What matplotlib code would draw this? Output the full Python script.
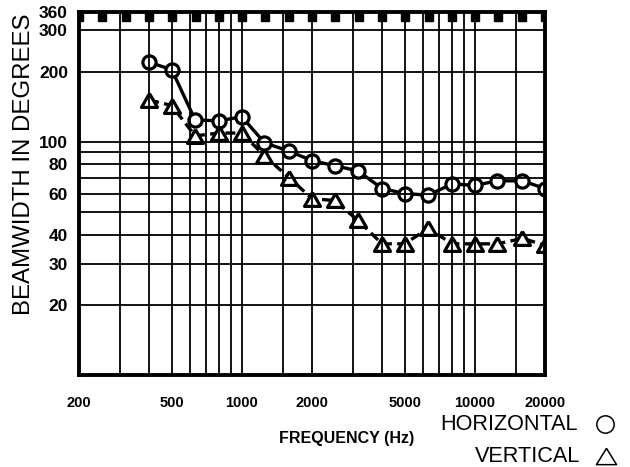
#!/usr/bin/env python3
"""Beamwidth vs frequency, horizontal and vertical."""

import matplotlib
matplotlib.use("Agg")
import matplotlib.pyplot as plt
from matplotlib.lines import Line2D
from matplotlib.ticker import FixedLocator, NullLocator

# 1/3 octave centre frequencies, Hz
freq = [400, 500, 630, 800, 1000, 1250, 1600, 2000, 2500, 3150,
        4000, 5000, 6300, 8000, 10000, 12500, 16000, 20000]
# beamwidth, degrees
horizontal = [219, 204, 124, 123, 128, 99, 91, 83, 79, 75,
              63, 60, 59, 66, 65, 68, 68, 63]
vertical = [151, 143, 106, 109, 109, 87, 70, 57, 56, 46,
            36.5, 36.5, 42.5, 36.5, 36.5, 36.5, 38.5, 36]

x_labels = [200, 500, 1000, 2000, 5000, 10000, 20000]
y_labels = [20, 30, 40, 60, 80, 100, 200, 300, 360]
x_grid = [300, 400, 500, 600, 700, 800, 900, 1000, 1500, 2000,
          3000, 4000, 5000, 6000, 7000, 8000, 9000, 10000, 15000]
y_grid = [20, 30, 40, 50, 60, 70, 80, 90, 100, 200, 300]

plt.rcParams["font.family"] = ["Liberation Sans", "DejaVu Sans"]

W, H = 630, 467
fig = plt.figure(figsize=(W / 100, H / 100), dpi=100)
ax = fig.add_axes([79 / W, 1 - 375 / H, (545 - 79) / W, (375 - 12) / H])
ax.set_xscale("log")
ax.set_yscale("log")
ax.set_xlim(200, 20000)
ax.set_ylim(10, 360)

# grid, drawn by hand so only the wanted lines show
for g in x_grid:
    ax.axvline(g, color="black", lw=1.3, zorder=3)
for g in y_grid:
    ax.axhline(g, color="black", lw=1.3, zorder=3)

# the little square marks hanging from the top edge (every 1/10 decade)
sq = [200 * 10 ** (k / 10) for k in range(21)]
ax.plot(sq, [0.987] * len(sq), "s", color="black", ms=6.3,
        transform=ax.get_xaxis_transform(), clip_on=True, zorder=4)

tri = [(0, 0.866), (-1, -0.866), (1, -0.866), (0, 0.866)]
ax.plot(freq, horizontal, "-o", color="black", lw=2.4, ms=9.5, mew=2.3,
        mfc="white", zorder=2)
ax.plot(freq, vertical, color="black", lw=2.4, ls=(0, (3, 1.6)),
        marker=tri, ms=11.5, mew=2.3, mfc="white", zorder=2)

ax.xaxis.set_major_locator(FixedLocator(x_labels))
ax.xaxis.set_minor_locator(NullLocator())
ax.yaxis.set_major_locator(FixedLocator(y_labels))
ax.yaxis.set_minor_locator(NullLocator())
ax.set_xticklabels([str(v) for v in x_labels], fontsize=10.5, fontweight="bold")
ax.set_yticklabels([str(v) for v in y_labels], fontsize=12.5, fontweight="bold")
ax.tick_params(axis="x", length=0, pad=15)
ax.tick_params(axis="y", length=0, pad=8)

for s in ax.spines.values():
    s.set_linewidth(2.8)
    s.set_zorder(5)

fig.text(24.5 / W, 1 - 164 / H, "BEAMWIDTH IN DEGREES", rotation=90,
         fontsize=17.3, ha="center", va="center")
fig.text(347 / W, 1 - 439 / H, "FREQUENCY (Hz)", fontsize=11.5,
         fontweight="bold", ha="center", va="center")
fig.text(440 / W, 1 - 430.5 / H, "HORIZONTAL", fontsize=15.6,
         ha="left", va="baseline")
fig.text(475 / W, 1 - 462 / H, "VERTICAL", fontsize=15.6,
         ha="left", va="baseline")

# key symbols after the two words
key_tri = [(0, 0.81), (-1, -0.81), (1, -0.81), (0, 0.81)]
fig.add_artist(Line2D([605 / W], [1 - 424 / H], marker="o", ms=12.5,
                      mfc="none", mec="black", mew=1.1, ls="none",
                      transform=fig.transFigure))
fig.add_artist(Line2D([606 / W], [1 - 456 / H], marker=key_tri, ms=14.5,
                      mfc="none", mec="black", mew=1.1, ls="none",
                      transform=fig.transFigure))

fig.savefig("out.png", dpi=100)
